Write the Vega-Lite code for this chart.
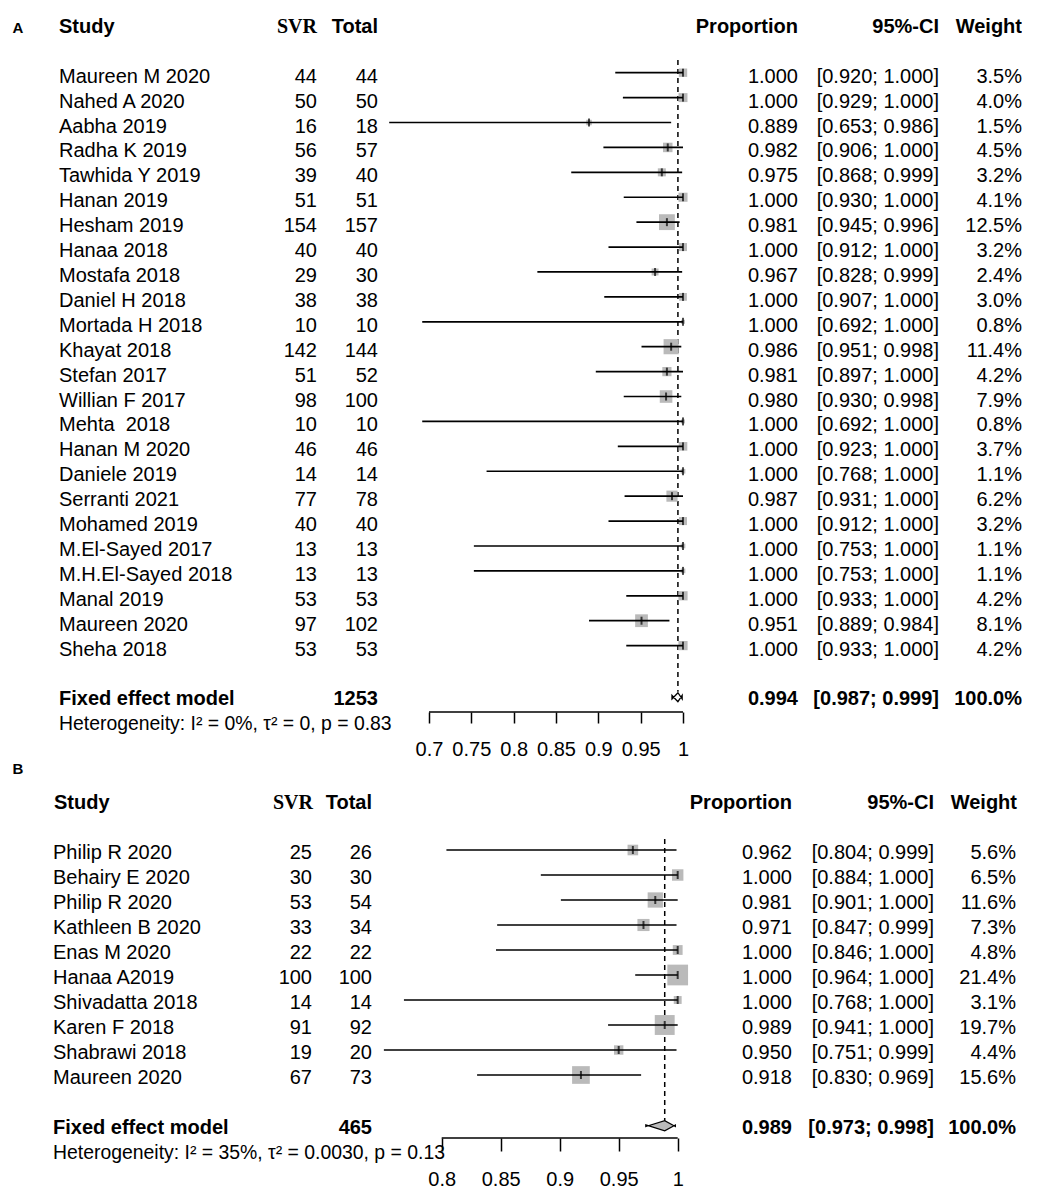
{
  "$schema": "https://vega.github.io/schema/vega-lite/v6.json",
  "padding": 0,
  "background": "white",
  "config": {
    "view": {"stroke": null},
    "text": {"font": "Liberation Sans", "fontSize": 20, "color": "black"}
  },
  "datasets": {
    "a": [
      {"id": 1, "study": "Maureen M 2020", "svr": 44, "total": 44, "prop": 1.0, "lo": 0.920, "hi": 1.0, "w": 3.5},
      {"id": 2, "study": "Nahed A 2020", "svr": 50, "total": 50, "prop": 1.0, "lo": 0.929, "hi": 1.0, "w": 4.0},
      {"id": 3, "study": "Aabha 2019", "svr": 16, "total": 18, "prop": 0.889, "lo": 0.653, "hi": 0.986, "w": 1.5},
      {"id": 4, "study": "Radha K 2019", "svr": 56, "total": 57, "prop": 0.982, "lo": 0.906, "hi": 1.0, "w": 4.5},
      {"id": 5, "study": "Tawhida Y 2019", "svr": 39, "total": 40, "prop": 0.975, "lo": 0.868, "hi": 0.999, "w": 3.2},
      {"id": 6, "study": "Hanan 2019", "svr": 51, "total": 51, "prop": 1.0, "lo": 0.930, "hi": 1.0, "w": 4.1},
      {"id": 7, "study": "Hesham 2019", "svr": 154, "total": 157, "prop": 0.981, "lo": 0.945, "hi": 0.996, "w": 12.5},
      {"id": 8, "study": "Hanaa 2018", "svr": 40, "total": 40, "prop": 1.0, "lo": 0.912, "hi": 1.0, "w": 3.2},
      {"id": 9, "study": "Mostafa 2018", "svr": 29, "total": 30, "prop": 0.967, "lo": 0.828, "hi": 0.999, "w": 2.4},
      {"id": 10, "study": "Daniel H 2018", "svr": 38, "total": 38, "prop": 1.0, "lo": 0.907, "hi": 1.0, "w": 3.0},
      {"id": 11, "study": "Mortada H 2018", "svr": 10, "total": 10, "prop": 1.0, "lo": 0.692, "hi": 1.0, "w": 0.8},
      {"id": 12, "study": "Khayat 2018", "svr": 142, "total": 144, "prop": 0.986, "lo": 0.951, "hi": 0.998, "w": 11.4},
      {"id": 13, "study": "Stefan 2017", "svr": 51, "total": 52, "prop": 0.981, "lo": 0.897, "hi": 1.0, "w": 4.2},
      {"id": 14, "study": "Willian F 2017", "svr": 98, "total": 100, "prop": 0.980, "lo": 0.930, "hi": 0.998, "w": 7.9},
      {"id": 15, "study": "Mehta\u00a0 2018", "svr": 10, "total": 10, "prop": 1.0, "lo": 0.692, "hi": 1.0, "w": 0.8},
      {"id": 16, "study": "Hanan M 2020", "svr": 46, "total": 46, "prop": 1.0, "lo": 0.923, "hi": 1.0, "w": 3.7},
      {"id": 17, "study": "Daniele 2019", "svr": 14, "total": 14, "prop": 1.0, "lo": 0.768, "hi": 1.0, "w": 1.1},
      {"id": 18, "study": "Serranti 2021", "svr": 77, "total": 78, "prop": 0.987, "lo": 0.931, "hi": 1.0, "w": 6.2},
      {"id": 19, "study": "Mohamed 2019", "svr": 40, "total": 40, "prop": 1.0, "lo": 0.912, "hi": 1.0, "w": 3.2},
      {"id": 20, "study": "M.El-Sayed 2017", "svr": 13, "total": 13, "prop": 1.0, "lo": 0.753, "hi": 1.0, "w": 1.1},
      {"id": 21, "study": "M.H.El-Sayed 2018", "svr": 13, "total": 13, "prop": 1.0, "lo": 0.753, "hi": 1.0, "w": 1.1},
      {"id": 22, "study": "Manal 2019", "svr": 53, "total": 53, "prop": 1.0, "lo": 0.933, "hi": 1.0, "w": 4.2},
      {"id": 23, "study": "Maureen 2020", "svr": 97, "total": 102, "prop": 0.951, "lo": 0.889, "hi": 0.984, "w": 8.1},
      {"id": 24, "study": "Sheha 2018", "svr": 53, "total": 53, "prop": 1.0, "lo": 0.933, "hi": 1.0, "w": 4.2}
    ],
    "asum": [
      {"label": "Fixed effect model", "total": 1253, "prop": 0.994, "lo": 0.987, "hi": 0.999, "w": 100.0, "het": "Heterogeneity: I² = 0%, τ² = 0, p = 0.83"}
    ],
    "b": [
      {"id": 1, "study": "Philip R 2020", "svr": 25, "total": 26, "prop": 0.962, "lo": 0.804, "hi": 0.999, "w": 5.6},
      {"id": 2, "study": "Behairy E 2020", "svr": 30, "total": 30, "prop": 1.0, "lo": 0.884, "hi": 1.0, "w": 6.5},
      {"id": 3, "study": "Philip R 2020", "svr": 53, "total": 54, "prop": 0.981, "lo": 0.901, "hi": 1.0, "w": 11.6},
      {"id": 4, "study": "Kathleen B 2020", "svr": 33, "total": 34, "prop": 0.971, "lo": 0.847, "hi": 0.999, "w": 7.3},
      {"id": 5, "study": "Enas M 2020", "svr": 22, "total": 22, "prop": 1.0, "lo": 0.846, "hi": 1.0, "w": 4.8},
      {"id": 6, "study": "Hanaa A2019", "svr": 100, "total": 100, "prop": 1.0, "lo": 0.964, "hi": 1.0, "w": 21.4},
      {"id": 7, "study": "Shivadatta 2018", "svr": 14, "total": 14, "prop": 1.0, "lo": 0.768, "hi": 1.0, "w": 3.1},
      {"id": 8, "study": "Karen F 2018", "svr": 91, "total": 92, "prop": 0.989, "lo": 0.941, "hi": 1.0, "w": 19.7},
      {"id": 9, "study": "Shabrawi 2018", "svr": 19, "total": 20, "prop": 0.950, "lo": 0.751, "hi": 0.999, "w": 4.4},
      {"id": 10, "study": "Maureen 2020", "svr": 67, "total": 73, "prop": 0.918, "lo": 0.830, "hi": 0.969, "w": 15.6}
    ],
    "bsum": [
      {"label": "Fixed effect model", "total": 465, "prop": 0.989, "lo": 0.973, "hi": 0.998, "w": 100.0, "het": "Heterogeneity: I² = 35%, τ² = 0.0030, p = 0.13"}
    ]
  },
  "columns": 8,
  "align": "each",
  "bounds": "flush",
  "spacing": {"row": 48, "column": 0},
  "concat": [
    {
      "width": 59, "height": 712,
      "data": {"values": [{"t": "A"}]},
      "mark": {"type": "text", "align": "center", "baseline": "middle", "dx": -11.5, "dy": 5, "fontSize": 15, "fontWeight": "bold"},
      "encoding": {
        "y": {"datum": -1, "type": "quantitative", "scale": {"domain": [-1.9185, 26.665], "reverse": true, "nice": false, "zero": false}, "axis": null},
        "text": {"field": "t"}
      }
    },
    {
      "width": 203, "height": 712,
      "layer": [
        {"data": {"values": [{"t": "Study"}]}, "mark": {"type": "text", "align": "left", "baseline": "middle", "dy": 4, "fontWeight": "bold"},
         "encoding": {"x": {"value": 0}, "y": {"datum": -1, "type": "quantitative", "scale": {"domain": [-1.9185, 26.665], "reverse": true, "nice": false, "zero": false}, "axis": null}, "text": {"field": "t"}}},
        {"data": {"name": "a"}, "mark": {"type": "text", "align": "left", "baseline": "middle", "dy": 4},
         "encoding": {"x": {"value": 0}, "y": {"field": "id", "type": "quantitative", "scale": {"domain": [-1.9185, 26.665], "reverse": true, "nice": false, "zero": false}, "axis": null}, "text": {"field": "study"}}},
        {"data": {"name": "asum"}, "mark": {"type": "text", "align": "left", "baseline": "middle", "dy": 4, "fontWeight": "bold"},
         "encoding": {"x": {"value": 0}, "y": {"datum": 26, "type": "quantitative", "scale": {"domain": [-1.9185, 26.665], "reverse": true, "nice": false, "zero": false}, "axis": null}, "text": {"field": "label"}}},
        {"data": {"name": "asum"}, "mark": {"type": "text", "align": "left", "baseline": "middle", "dy": 4, "fontSize": 19.4},
         "encoding": {"x": {"value": 0}, "y": {"datum": 27, "type": "quantitative", "scale": {"domain": [-1.9185, 26.665], "reverse": true, "nice": false, "zero": false}, "axis": null}, "text": {"field": "het"}}}
      ]
    },
    {
      "width": 55, "height": 712,
      "layer": [
        {"data": {"values": [{"t": "SVR"}]}, "mark": {"type": "text", "align": "right", "baseline": "middle", "dy": 4, "font": "Liberation Serif", "fontWeight": "bold"},
         "encoding": {"x": {"value": "width"}, "y": {"datum": -1, "type": "quantitative", "scale": {"domain": [-1.9185, 26.665], "reverse": true, "nice": false, "zero": false}, "axis": null}, "text": {"field": "t"}}},
        {"data": {"name": "a"}, "mark": {"type": "text", "align": "right", "baseline": "middle", "dy": 4},
         "encoding": {"x": {"value": "width"}, "y": {"field": "id", "type": "quantitative", "scale": {"domain": [-1.9185, 26.665], "reverse": true, "nice": false, "zero": false}, "axis": null}, "text": {"field": "svr"}}}
      ]
    },
    {
      "width": 61, "height": 712,
      "layer": [
        {"data": {"values": [{"t": "Total"}]}, "mark": {"type": "text", "align": "right", "baseline": "middle", "dy": 4, "fontWeight": "bold"},
         "encoding": {"x": {"value": "width"}, "y": {"datum": -1, "type": "quantitative", "scale": {"domain": [-1.9185, 26.665], "reverse": true, "nice": false, "zero": false}, "axis": null}, "text": {"field": "t"}}},
        {"data": {"name": "a"}, "mark": {"type": "text", "align": "right", "baseline": "middle", "dy": 4},
         "encoding": {"x": {"value": "width"}, "y": {"field": "id", "type": "quantitative", "scale": {"domain": [-1.9185, 26.665], "reverse": true, "nice": false, "zero": false}, "axis": null}, "text": {"field": "total"}}},
        {"data": {"name": "asum"}, "mark": {"type": "text", "align": "right", "baseline": "middle", "dy": 4, "fontWeight": "bold"},
         "encoding": {"x": {"value": "width"}, "y": {"datum": 26, "type": "quantitative", "scale": {"domain": [-1.9185, 26.665], "reverse": true, "nice": false, "zero": false}, "axis": null}, "text": {"field": "total"}}}
      ]
    },
    {
      "width": 322, "height": 712,
      "layer": [
        {"data": {"name": "asum"}, "mark": {"type": "rule", "color": "black", "strokeWidth": 1.5, "strokeDash": [5, 4]},
         "encoding": {
           "x": {"field": "prop", "type": "quantitative", "title": null, "scale": {"domain": [0.63977, 1.02008], "nice": false, "zero": false},
                 "axis": {"values": [0.7, 0.75, 0.8, 0.85, 0.9, 0.95, 1], "format": "~g", "title": null, "domain": false, "grid": false, "tickSize": 11, "tickWidth": 1.5, "tickColor": "black", "labelFont": "Liberation Sans", "labelFontSize": 20, "labelColor": "black", "labelPadding": 16.6, "labelFlush": false, "labelOverlap": false, "labelBound": false}},
           "y": {"datum": 0.49, "type": "quantitative", "scale": {"domain": [-1.9185, 26.665], "reverse": true, "nice": false, "zero": false}, "axis": null},
           "y2": {"datum": 25.85}}},
        {"data": {"name": "a"}, "mark": {"type": "square", "filled": true, "color": "#bababa", "opacity": 1},
         "encoding": {
           "x": {"field": "prop", "type": "quantitative", "title": null, "scale": {"domain": [0.63977, 1.02008], "nice": false, "zero": false}},
           "y": {"field": "id", "type": "quantitative", "scale": {"domain": [-1.9185, 26.665], "reverse": true, "nice": false, "zero": false}, "axis": null},
           "size": {"field": "w", "type": "quantitative", "scale": {"domain": [0, 12.5], "range": [0, 430]}, "legend": null}}},
        {"data": {"name": "a"}, "mark": {"type": "rule", "color": "black", "strokeWidth": 1.7},
         "encoding": {
           "x": {"field": "lo", "type": "quantitative", "title": null, "scale": {"domain": [0.63977, 1.02008], "nice": false, "zero": false}},
           "x2": {"field": "hi"},
           "y": {"field": "id", "type": "quantitative", "scale": {"domain": [-1.9185, 26.665], "reverse": true, "nice": false, "zero": false}, "axis": null}}},
        {"data": {"name": "a"}, "mark": {"type": "tick", "orient": "vertical", "color": "black", "size": 8, "thickness": 2},
         "encoding": {
           "x": {"field": "prop", "type": "quantitative", "title": null, "scale": {"domain": [0.63977, 1.02008], "nice": false, "zero": false}},
           "y": {"field": "id", "type": "quantitative", "scale": {"domain": [-1.9185, 26.665], "reverse": true, "nice": false, "zero": false}, "axis": null}}},
        {"data": {"name": "asum"},
         "transform": [
           {"fold": ["lo", "prop", "hi"], "as": ["k", "xv"]},
           {"calculate": "datum.k === 'prop' ? 0.25 : 0", "as": "h"},
           {"calculate": "26 - datum.h", "as": "ytop"},
           {"calculate": "26 + datum.h", "as": "ybot"}
         ],
         "mark": {"type": "area", "orient": "vertical", "fill": "white", "stroke": "black", "strokeWidth": 1.3, "yOffset": 3.5},
         "encoding": {
           "x": {"field": "xv", "type": "quantitative", "title": null, "scale": {"domain": [0.63977, 1.02008], "nice": false, "zero": false}},
           "y": {"field": "ytop", "type": "quantitative", "scale": {"domain": [-1.9185, 26.665], "reverse": true, "nice": false, "zero": false}, "axis": null},
           "y2": {"field": "ybot"}}},
        {"data": {"values": [{}]}, "mark": {"type": "rule", "color": "black", "strokeWidth": 1.5},
         "encoding": {
           "x": {"datum": 0.7, "type": "quantitative", "title": null, "scale": {"domain": [0.63977, 1.02008], "nice": false, "zero": false}},
           "x2": {"datum": 1},
           "y": {"datum": 26.665, "type": "quantitative", "scale": {"domain": [-1.9185, 26.665], "reverse": true, "nice": false, "zero": false}, "axis": null}}}
      ]
    },
    {
      "width": 98, "height": 712,
      "layer": [
        {"data": {"values": [{"t": "Proportion"}]}, "mark": {"type": "text", "align": "right", "baseline": "middle", "dy": 4, "fontWeight": "bold"},
         "encoding": {"x": {"value": "width"}, "y": {"datum": -1, "type": "quantitative", "scale": {"domain": [-1.9185, 26.665], "reverse": true, "nice": false, "zero": false}, "axis": null}, "text": {"field": "t"}}},
        {"data": {"name": "a"}, "mark": {"type": "text", "align": "right", "baseline": "middle", "dy": 4},
         "encoding": {"x": {"value": "width"}, "y": {"field": "id", "type": "quantitative", "scale": {"domain": [-1.9185, 26.665], "reverse": true, "nice": false, "zero": false}, "axis": null}, "text": {"field": "prop", "format": ".3f"}}},
        {"data": {"name": "asum"}, "mark": {"type": "text", "align": "right", "baseline": "middle", "dy": 4, "fontWeight": "bold"},
         "encoding": {"x": {"value": "width"}, "y": {"datum": 26, "type": "quantitative", "scale": {"domain": [-1.9185, 26.665], "reverse": true, "nice": false, "zero": false}, "axis": null}, "text": {"field": "prop", "format": ".3f"}}}
      ]
    },
    {
      "width": 141, "height": 712,
      "layer": [
        {"data": {"values": [{"t": "95%-CI"}]}, "mark": {"type": "text", "align": "right", "baseline": "middle", "dy": 4, "fontWeight": "bold"},
         "encoding": {"x": {"value": "width"}, "y": {"datum": -1, "type": "quantitative", "scale": {"domain": [-1.9185, 26.665], "reverse": true, "nice": false, "zero": false}, "axis": null}, "text": {"field": "t"}}},
        {"data": {"name": "a"}, "transform": [{"calculate": "'[' + format(datum.lo, '.3f') + '; ' + format(datum.hi, '.3f') + ']'", "as": "ci"}],
         "mark": {"type": "text", "align": "right", "baseline": "middle", "dy": 4},
         "encoding": {"x": {"value": "width"}, "y": {"field": "id", "type": "quantitative", "scale": {"domain": [-1.9185, 26.665], "reverse": true, "nice": false, "zero": false}, "axis": null}, "text": {"field": "ci"}}},
        {"data": {"name": "asum"}, "transform": [{"calculate": "'[' + format(datum.lo, '.3f') + '; ' + format(datum.hi, '.3f') + ']'", "as": "ci"}],
         "mark": {"type": "text", "align": "right", "baseline": "middle", "dy": 4, "fontWeight": "bold"},
         "encoding": {"x": {"value": "width"}, "y": {"datum": 26, "type": "quantitative", "scale": {"domain": [-1.9185, 26.665], "reverse": true, "nice": false, "zero": false}, "axis": null}, "text": {"field": "ci"}}}
      ]
    },
    {
      "width": 83, "height": 712,
      "layer": [
        {"data": {"values": [{"t": "Weight"}]}, "mark": {"type": "text", "align": "right", "baseline": "middle", "dy": 4, "fontWeight": "bold"},
         "encoding": {"x": {"value": "width"}, "y": {"datum": -1, "type": "quantitative", "scale": {"domain": [-1.9185, 26.665], "reverse": true, "nice": false, "zero": false}, "axis": null}, "text": {"field": "t"}}},
        {"data": {"name": "a"}, "transform": [{"calculate": "format(datum.w, '.1f') + '%'", "as": "wt"}],
         "mark": {"type": "text", "align": "right", "baseline": "middle", "dy": 4},
         "encoding": {"x": {"value": "width"}, "y": {"field": "id", "type": "quantitative", "scale": {"domain": [-1.9185, 26.665], "reverse": true, "nice": false, "zero": false}, "axis": null}, "text": {"field": "wt"}}},
        {"data": {"name": "asum"}, "transform": [{"calculate": "format(datum.w, '.1f') + '%'", "as": "wt"}],
         "mark": {"type": "text", "align": "right", "baseline": "middle", "dy": 4, "fontWeight": "bold"},
         "encoding": {"x": {"value": "width"}, "y": {"datum": 26, "type": "quantitative", "scale": {"domain": [-1.9185, 26.665], "reverse": true, "nice": false, "zero": false}, "axis": null}, "text": {"field": "wt"}}}
      ]
    },
    {
      "width": 59, "height": 378,
      "data": {"values": [{"t": "B"}]},
      "mark": {"type": "text", "align": "center", "baseline": "middle", "dx": -11.5, "dy": 4, "fontSize": 15, "fontWeight": "bold"},
      "encoding": {
        "y": {"datum": -2.4, "type": "quantitative", "scale": {"domain": [-2.6, 12.52], "reverse": true, "nice": false, "zero": false}, "axis": null},
        "text": {"field": "t"}
      }
    },
    {
      "width": 203, "height": 378,
      "layer": [
        {"data": {"values": [{"t": "Study"}]}, "mark": {"type": "text", "align": "left", "baseline": "middle", "dx": -5, "dy": 3, "fontWeight": "bold"},
         "encoding": {"x": {"value": 0}, "y": {"datum": -1, "type": "quantitative", "scale": {"domain": [-2.6, 12.52], "reverse": true, "nice": false, "zero": false}, "axis": null}, "text": {"field": "t"}}},
        {"data": {"name": "b"}, "mark": {"type": "text", "align": "left", "baseline": "middle", "dx": -6, "dy": 3},
         "encoding": {"x": {"value": 0}, "y": {"field": "id", "type": "quantitative", "scale": {"domain": [-2.6, 12.52], "reverse": true, "nice": false, "zero": false}, "axis": null}, "text": {"field": "study"}}},
        {"data": {"name": "bsum"}, "mark": {"type": "text", "align": "left", "baseline": "middle", "dx": -6, "dy": 3, "fontWeight": "bold"},
         "encoding": {"x": {"value": 0}, "y": {"datum": 12, "type": "quantitative", "scale": {"domain": [-2.6, 12.52], "reverse": true, "nice": false, "zero": false}, "axis": null}, "text": {"field": "label"}}},
        {"data": {"name": "bsum"}, "mark": {"type": "text", "align": "left", "baseline": "middle", "dx": -6, "dy": 3, "fontSize": 19.4},
         "encoding": {"x": {"value": 0}, "y": {"datum": 13, "type": "quantitative", "scale": {"domain": [-2.6, 12.52], "reverse": true, "nice": false, "zero": false}, "axis": null}, "text": {"field": "het"}}}
      ]
    },
    {
      "width": 55, "height": 378,
      "layer": [
        {"data": {"values": [{"t": "SVR"}]}, "mark": {"type": "text", "align": "right", "baseline": "middle", "dx": -4, "dy": 3, "font": "Liberation Serif", "fontWeight": "bold"},
         "encoding": {"x": {"value": "width"}, "y": {"datum": -1, "type": "quantitative", "scale": {"domain": [-2.6, 12.52], "reverse": true, "nice": false, "zero": false}, "axis": null}, "text": {"field": "t"}}},
        {"data": {"name": "b"}, "mark": {"type": "text", "align": "right", "baseline": "middle", "dx": -5, "dy": 3},
         "encoding": {"x": {"value": "width"}, "y": {"field": "id", "type": "quantitative", "scale": {"domain": [-2.6, 12.52], "reverse": true, "nice": false, "zero": false}, "axis": null}, "text": {"field": "svr"}}}
      ]
    },
    {
      "width": 61, "height": 378,
      "layer": [
        {"data": {"values": [{"t": "Total"}]}, "mark": {"type": "text", "align": "right", "baseline": "middle", "dx": -6, "dy": 3, "fontWeight": "bold"},
         "encoding": {"x": {"value": "width"}, "y": {"datum": -1, "type": "quantitative", "scale": {"domain": [-2.6, 12.52], "reverse": true, "nice": false, "zero": false}, "axis": null}, "text": {"field": "t"}}},
        {"data": {"name": "b"}, "mark": {"type": "text", "align": "right", "baseline": "middle", "dx": -6, "dy": 3},
         "encoding": {"x": {"value": "width"}, "y": {"field": "id", "type": "quantitative", "scale": {"domain": [-2.6, 12.52], "reverse": true, "nice": false, "zero": false}, "axis": null}, "text": {"field": "total"}}},
        {"data": {"name": "bsum"}, "mark": {"type": "text", "align": "right", "baseline": "middle", "dx": -6, "dy": 3, "fontWeight": "bold"},
         "encoding": {"x": {"value": "width"}, "y": {"datum": 12, "type": "quantitative", "scale": {"domain": [-2.6, 12.52], "reverse": true, "nice": false, "zero": false}, "axis": null}, "text": {"field": "total"}}}
      ]
    },
    {
      "width": 322, "height": 378,
      "layer": [
        {"data": {"name": "bsum"}, "mark": {"type": "rule", "color": "black", "strokeWidth": 1.5, "strokeDash": [5, 4]},
         "encoding": {
           "x": {"field": "prop", "type": "quantitative", "title": null, "scale": {"domain": [0.74602, 1.0189], "nice": false, "zero": false},
                 "axis": {"values": [0.8, 0.85, 0.9, 0.95, 1], "format": "~g", "title": null, "domain": false, "grid": false, "tickSize": 13, "tickWidth": 1.5, "tickColor": "black", "labelFont": "Liberation Sans", "labelFontSize": 20, "labelColor": "black", "labelPadding": 18.3, "labelFlush": false, "labelOverlap": false, "labelBound": false}},
           "y": {"datum": 0.56, "type": "quantitative", "scale": {"domain": [-2.6, 12.52], "reverse": true, "nice": false, "zero": false}, "axis": null},
           "y2": {"datum": 11.83}}},
        {"data": {"name": "b"}, "mark": {"type": "square", "filled": true, "color": "#bababa", "opacity": 1},
         "encoding": {
           "x": {"field": "prop", "type": "quantitative", "title": null, "scale": {"domain": [0.74602, 1.0189], "nice": false, "zero": false}},
           "y": {"field": "id", "type": "quantitative", "scale": {"domain": [-2.6, 12.52], "reverse": true, "nice": false, "zero": false}, "axis": null},
           "size": {"field": "w", "type": "quantitative", "scale": {"domain": [0, 21.4], "range": [0, 480]}, "legend": null}}},
        {"data": {"name": "b"}, "mark": {"type": "rule", "color": "black", "strokeWidth": 1.7},
         "encoding": {
           "x": {"field": "lo", "type": "quantitative", "title": null, "scale": {"domain": [0.74602, 1.0189], "nice": false, "zero": false}},
           "x2": {"field": "hi"},
           "y": {"field": "id", "type": "quantitative", "scale": {"domain": [-2.6, 12.52], "reverse": true, "nice": false, "zero": false}, "axis": null}}},
        {"data": {"name": "b"}, "mark": {"type": "tick", "orient": "vertical", "color": "black", "size": 8, "thickness": 2},
         "encoding": {
           "x": {"field": "prop", "type": "quantitative", "title": null, "scale": {"domain": [0.74602, 1.0189], "nice": false, "zero": false}},
           "y": {"field": "id", "type": "quantitative", "scale": {"domain": [-2.6, 12.52], "reverse": true, "nice": false, "zero": false}, "axis": null}}},
        {"data": {"name": "bsum"},
         "transform": [
           {"fold": ["lo", "prop", "hi"], "as": ["k", "xv"]},
           {"calculate": "datum.k === 'prop' ? 0.23 : 0", "as": "h"},
           {"calculate": "12 - datum.h", "as": "ytop"},
           {"calculate": "12 + datum.h", "as": "ybot"}
         ],
         "mark": {"type": "area", "orient": "vertical", "fill": "#bababa", "stroke": "black", "strokeWidth": 1.3, "yOffset": 1.5},
         "encoding": {
           "x": {"field": "xv", "type": "quantitative", "title": null, "scale": {"domain": [0.74602, 1.0189], "nice": false, "zero": false}},
           "y": {"field": "ytop", "type": "quantitative", "scale": {"domain": [-2.6, 12.52], "reverse": true, "nice": false, "zero": false}, "axis": null},
           "y2": {"field": "ybot"}}},
        {"data": {"values": [{}]}, "mark": {"type": "rule", "color": "black", "strokeWidth": 1.5},
         "encoding": {
           "x": {"datum": 0.8, "type": "quantitative", "title": null, "scale": {"domain": [0.74602, 1.0189], "nice": false, "zero": false}},
           "x2": {"datum": 1},
           "y": {"datum": 12.52, "type": "quantitative", "scale": {"domain": [-2.6, 12.52], "reverse": true, "nice": false, "zero": false}, "axis": null}}}
      ]
    },
    {
      "width": 98, "height": 378,
      "layer": [
        {"data": {"values": [{"t": "Proportion"}]}, "mark": {"type": "text", "align": "right", "baseline": "middle", "dx": -6, "dy": 3, "fontWeight": "bold"},
         "encoding": {"x": {"value": "width"}, "y": {"datum": -1, "type": "quantitative", "scale": {"domain": [-2.6, 12.52], "reverse": true, "nice": false, "zero": false}, "axis": null}, "text": {"field": "t"}}},
        {"data": {"name": "b"}, "mark": {"type": "text", "align": "right", "baseline": "middle", "dx": -6, "dy": 3},
         "encoding": {"x": {"value": "width"}, "y": {"field": "id", "type": "quantitative", "scale": {"domain": [-2.6, 12.52], "reverse": true, "nice": false, "zero": false}, "axis": null}, "text": {"field": "prop", "format": ".3f"}}},
        {"data": {"name": "bsum"}, "mark": {"type": "text", "align": "right", "baseline": "middle", "dx": -6, "dy": 3, "fontWeight": "bold"},
         "encoding": {"x": {"value": "width"}, "y": {"datum": 12, "type": "quantitative", "scale": {"domain": [-2.6, 12.52], "reverse": true, "nice": false, "zero": false}, "axis": null}, "text": {"field": "prop", "format": ".3f"}}}
      ]
    },
    {
      "width": 141, "height": 378,
      "layer": [
        {"data": {"values": [{"t": "95%-CI"}]}, "mark": {"type": "text", "align": "right", "baseline": "middle", "dx": -5, "dy": 3, "fontWeight": "bold"},
         "encoding": {"x": {"value": "width"}, "y": {"datum": -1, "type": "quantitative", "scale": {"domain": [-2.6, 12.52], "reverse": true, "nice": false, "zero": false}, "axis": null}, "text": {"field": "t"}}},
        {"data": {"name": "b"}, "transform": [{"calculate": "'[' + format(datum.lo, '.3f') + '; ' + format(datum.hi, '.3f') + ']'", "as": "ci"}],
         "mark": {"type": "text", "align": "right", "baseline": "middle", "dx": -5, "dy": 3},
         "encoding": {"x": {"value": "width"}, "y": {"field": "id", "type": "quantitative", "scale": {"domain": [-2.6, 12.52], "reverse": true, "nice": false, "zero": false}, "axis": null}, "text": {"field": "ci"}}},
        {"data": {"name": "bsum"}, "transform": [{"calculate": "'[' + format(datum.lo, '.3f') + '; ' + format(datum.hi, '.3f') + ']'", "as": "ci"}],
         "mark": {"type": "text", "align": "right", "baseline": "middle", "dx": -5, "dy": 3, "fontWeight": "bold"},
         "encoding": {"x": {"value": "width"}, "y": {"datum": 12, "type": "quantitative", "scale": {"domain": [-2.6, 12.52], "reverse": true, "nice": false, "zero": false}, "axis": null}, "text": {"field": "ci"}}}
      ]
    },
    {
      "width": 83, "height": 378,
      "layer": [
        {"data": {"values": [{"t": "Weight"}]}, "mark": {"type": "text", "align": "right", "baseline": "middle", "dx": -5, "dy": 3, "fontWeight": "bold"},
         "encoding": {"x": {"value": "width"}, "y": {"datum": -1, "type": "quantitative", "scale": {"domain": [-2.6, 12.52], "reverse": true, "nice": false, "zero": false}, "axis": null}, "text": {"field": "t"}}},
        {"data": {"name": "b"}, "transform": [{"calculate": "format(datum.w, '.1f') + '%'", "as": "wt"}],
         "mark": {"type": "text", "align": "right", "baseline": "middle", "dx": -6, "dy": 3},
         "encoding": {"x": {"value": "width"}, "y": {"field": "id", "type": "quantitative", "scale": {"domain": [-2.6, 12.52], "reverse": true, "nice": false, "zero": false}, "axis": null}, "text": {"field": "wt"}}},
        {"data": {"name": "bsum"}, "transform": [{"calculate": "format(datum.w, '.1f') + '%'", "as": "wt"}],
         "mark": {"type": "text", "align": "right", "baseline": "middle", "dx": -6, "dy": 3, "fontWeight": "bold"},
         "encoding": {"x": {"value": "width"}, "y": {"datum": 12, "type": "quantitative", "scale": {"domain": [-2.6, 12.52], "reverse": true, "nice": false, "zero": false}, "axis": null}, "text": {"field": "wt"}}}
      ]
    }
  ]
}
